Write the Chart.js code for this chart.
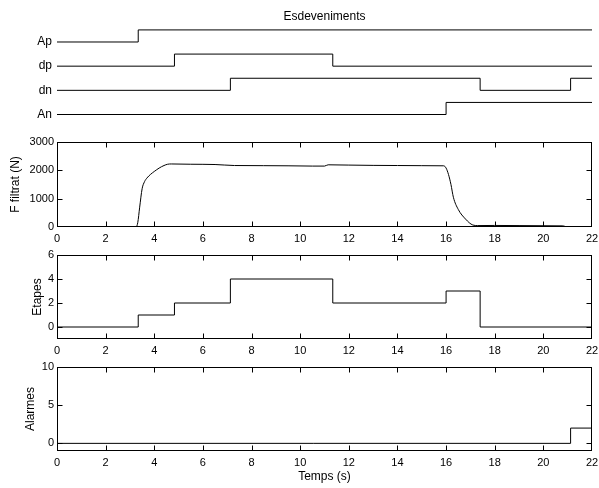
<!DOCTYPE html>
<html>
<head>
<meta charset="utf-8">
<script src="https://cdn.jsdelivr.net/npm/chart.js@4.4.1/dist/chart.umd.min.js"></script>
<style>
  html, body { margin: 0; padding: 0; background: #fff; }
  body { position: relative; width: 599px; height: 488px; overflow: hidden; }
  canvas { position: absolute; left: 0; }
</style>
</head>
<body>
<canvas id="events" width="599" height="122" style="top:0px"></canvas>
<canvas id="force" width="599" height="113" style="top:134px"></canvas>
<canvas id="steps" width="599" height="112" style="top:247px"></canvas>
<canvas id="alarms" width="599" height="129" style="top:359px"></canvas>
<script>
// --- data ---
const timeTicks = [0, 2, 4, 6, 8, 10, 12, 14, 16, 18, 20, 22];

// event signals, 0/1, top to bottom
const eventNames = ["Ap", "dp", "dn", "An"];
const apT = [0, 3.34, 22],              apV = [0, 1, 1];
const dpT = [0, 4.83, 11.34, 22],       dpV = [0, 1, 0, 0];
const dnT = [0, 7.13, 17.4, 21.12, 22], dnV = [0, 1, 0, 1, 1];
const anT = [0, 16.0, 22],              anV = [0, 1, 1];

// filtered force (N)
const forceT = [0, 3.25, 3.32, 3.4, 3.5, 3.6, 3.7, 3.85, 4.0, 4.2, 4.4, 4.55, 4.7, 5.5, 6.5,
                7.3, 8.5, 9.5, 10.5, 11.0, 11.15, 12, 13, 14, 15, 15.9, 16.0, 16.1, 16.2,
                16.3, 16.5, 16.8, 17.1, 17.3, 18, 19, 20, 20.8, 21.0, 22];
const forceV = [0, 0, 150, 700, 1350, 1600, 1730, 1860, 1960, 2080, 2170, 2215, 2225, 2215, 2205,
                2170, 2165, 2160, 2150, 2150, 2195, 2185, 2175, 2170, 2165, 2160, 2080, 1850, 1500,
                1050, 620, 280, 70, 50, 55, 50, 45, 40, 0, 0];
const forceTicks = [0, 1000, 2000, 3000];

// active step
const stepT = [0, 3.34, 4.83, 7.13, 11.34, 16.0, 17.4, 22];
const stepV = [0, 1, 2, 4, 2, 3, 0, 0];
const stepTicks = [0, 2, 4, 6];

// alarms
const alarmT = [0, 21.12, 22];
const alarmV = [0, 2, 2];
const alarmTicks = [0, 5, 10];

// --- setup ---
Chart.defaults.font.family = "'Liberation Sans', Arial, Helvetica, sans-serif";
Chart.defaults.font.size = 11;
Chart.defaults.color = "#000";

const pts = (t, v, f = y => y) => t.map((x, i) => ({ x, y: f(v[i]) }));
const fixTicks = list => scale => { scale.ticks = list.map(v => ({ value: v })); };
// fixed axis sizes, no extra room for end labels
const fitY = s => { s.width = 57; s.paddingTop = 0; s.paddingBottom = 0; };
const fitX = h => s => { s.height = h; s.paddingLeft = 0; s.paddingRight = 0; };

// MATLAB-like box with inward ticks on all four sides
const BoxPlugin = {
  id: "box",
  afterDatasetsDraw(chart) {
    const { ctx, chartArea: a, scales: { x, y } } = chart;
    const L = Math.round(a.left) + 0.5, R = Math.round(a.right) - 0.5;
    const T = Math.round(a.top) + 0.5, B = Math.round(a.bottom) - 0.5;
    ctx.save();
    ctx.strokeStyle = "#000";
    ctx.lineWidth = 1;
    ctx.beginPath();
    x.ticks.forEach(t => {
      const px = Math.round(x.getPixelForValue(t.value)) + 0.5;
      if (px <= L + 1 || px >= R - 1) return;
      ctx.moveTo(px, B); ctx.lineTo(px, B - 5);
      ctx.moveTo(px, T); ctx.lineTo(px, T + 5);
    });
    y.ticks.forEach(t => {
      const py = Math.round(y.getPixelForValue(t.value)) + 0.5;
      if (py <= T + 1 || py >= B - 1) return;
      ctx.moveTo(L, py); ctx.lineTo(L + 5, py);
      ctx.moveTo(R, py); ctx.lineTo(R - 5, py);
    });
    ctx.stroke();
    ctx.strokeRect(L, T, R - L, B - T);
    ctx.restore();
  }
};

const lineDs = (data, extra = {}) => Object.assign({
  data, borderColor: "#000", borderWidth: 1, pointRadius: 0, fill: false
}, extra);

function panel(id, datasets, yMin, yMax, yTicks, yTitle, yTitlePad, xTitle) {
  new Chart(document.getElementById(id), {
    type: "line",
    data: { datasets },
    options: {
      responsive: false,
      animation: false,
      layout: { padding: { top: 8, right: 7, left: 0, bottom: 0 } },
      plugins: { legend: { display: false }, tooltip: { enabled: false } },
      scales: {
        x: {
          type: "linear", min: 0, max: 22,
          afterBuildTicks: fixTicks(timeTicks),
          afterFit: fitX(xTitle ? 37 : 20),
          grid: { display: false, drawTicks: false },
          border: { display: false },
          ticks: { padding: 5.5, maxRotation: 0, callback: v => String(v) },
          title: xTitle ? { display: true, text: xTitle, font: { size: 12 }, padding: { top: 0, bottom: 4 } } : { display: false }
        },
        y: {
          min: yMin, max: yMax,
          afterBuildTicks: fixTicks(yTicks),
          afterFit: fitY,
          grid: { display: false, drawTicks: false },
          border: { display: false },
          ticks: { padding: 3, callback: v => String(v) },
          title: { display: true, text: yTitle, font: { size: 12 }, padding: { top: yTitlePad, bottom: 0 } }
        }
      }
    },
    plugins: [BoxPlugin]
  });
}

// --- events panel ---
const eventSeries = [[apT, apV], [dpT, dpV], [dnT, dnV], [anT, anV]];
new Chart(document.getElementById("events"), {
  type: "line",
  data: {
    datasets: eventSeries.map(([t, v], i) =>
      lineDs(pts(t, v, y => (3 - i) + 0.5 * y), { stepped: true }))
  },
  options: {
    responsive: false,
    animation: false,
    layout: { padding: { top: 0, right: 7, left: 0, bottom: 0 } },
    plugins: {
      legend: { display: false },
      tooltip: { enabled: false },
      title: {
        display: true, text: "Esdeveniments", fullSize: false,
        font: { size: 12, weight: "normal" }, color: "#000",
        padding: { top: 9, bottom: 4 }
      }
    },
    scales: {
      x: { type: "linear", min: 0, max: 22, display: false },
      y: {
        min: -0.31, max: 3.604,
        afterBuildTicks: fixTicks([0, 1, 2, 3]),
        afterFit: fitY,
        grid: { display: false, drawTicks: false },
        border: { display: false },
        ticks: { padding: 5, font: { size: 12 }, callback: v => eventNames[3 - v] }
      }
    }
  }
});

panel("force", [lineDs(pts(forceT, forceV), { cubicInterpolationMode: "monotone" })],
      0, 3000, forceTicks, "F filtrat (N)", 8.8);
panel("steps", [lineDs(pts(stepT, stepV), { stepped: true })],
      -1, 6, stepTicks, "Etapes", 30.5);
panel("alarms", [lineDs(pts(alarmT, alarmV), { stepped: true })],
      -1, 10, alarmTicks, "Alarmes", 23.8, "Temps (s)");
</script>
</body>
</html>
